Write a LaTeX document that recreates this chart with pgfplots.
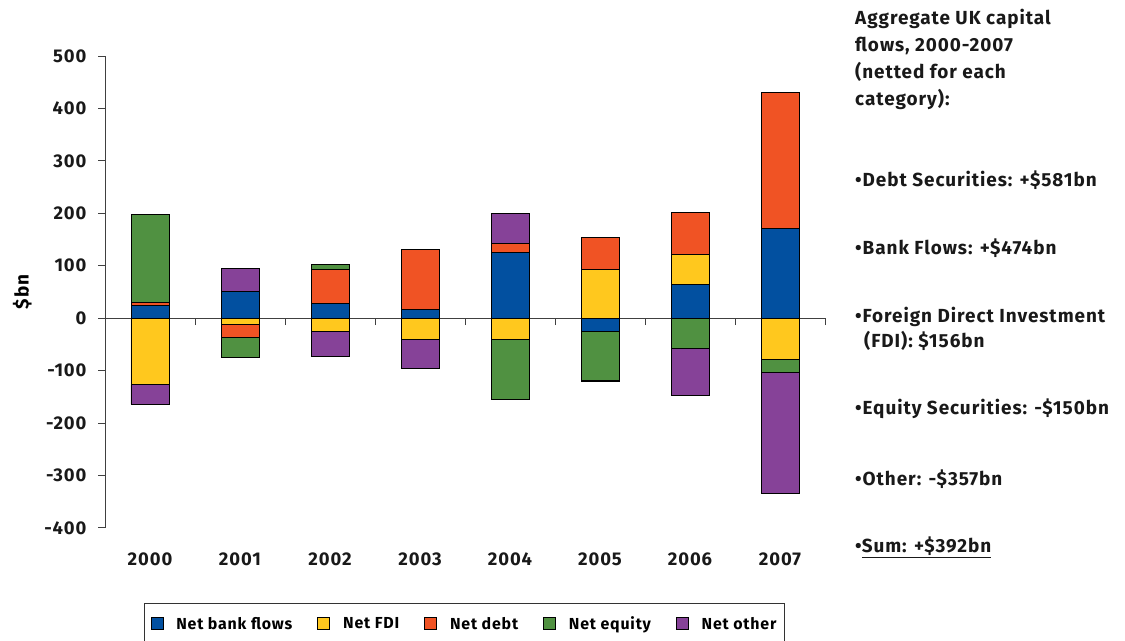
\documentclass[border=0pt]{standalone}
\usepackage{fontspec}
\setmainfont{Fira Sans}[LetterSpace=5]
\usepackage{pgfplots}
\usepackage{pgfplotstable}
\pgfplotsset{compat=1.18}

\definecolor{cblue}{RGB}{2,80,160}
\definecolor{cyellow}{RGB}{255,200,30}
\definecolor{cred}{RGB}{240,83,36}
\definecolor{cgreen}{RGB}{80,145,65}
\definecolor{cpurple}{RGB}{134,66,152}

% positive parts (stacked upward from 0)
\pgfplotstableread{
x blue yellow red green purple
0 25 0 5 168 0
1 51 0 0 0 43
2 28 0 65 10 0
3 16 0 115 0 0
4 125 0 18 0 57
5 0 93 61 0 0
6 65 57 80 0 0
7 171 0 259 0 0
}\postable

% negative parts (stacked downward from 0)
\pgfplotstableread{
x blue yellow red green purple
0 0 -127 0 0 -37
1 0 -11 -26 -37 0
2 0 -26 0 0 -46
3 0 -40 0 0 -55
4 0 -41 0 -114 0
5 -26 0 0 -92 -2
6 0 0 0 -58 -89
7 0 -78 0 -26 -230
}\negtable

\pgfplotsset{
  common/.style={
    scale only axis, width=720bp, height=472bp,
    at={(105bp,113bp)}, anchor=south west,
    xmin=-0.5, xmax=7.5, ymin=-400, ymax=500,
    ybar stacked, bar width=38bp,
  },
  barsty/.style={fill=#1, draw=black, line width=0.9bp,
    legend image code/.code={\draw[fill=#1,draw=black,line width=0.8bp] (0bp,-6bp) rectangle (12bp,6bp);}},
}

\begin{document}
\begin{tikzpicture}
\useasboundingbox (0,0) rectangle (1125bp,641bp);

% axis 1: negative parts, y axis and year labels
\begin{axis}[common,
  axis y line*=left, axis x line*=bottom,
  x axis line style={draw=none},
  y axis line style={line width=1bp, color=black!75},
  xtick={0,...,7},
  xticklabels={2000,2001,2002,2003,2004,2005,2006,2007},
  x tick style={draw=none},
  xticklabel style={yshift=-14bp},
  ytick={-400,-300,...,500},
  y tick style={line width=1bp, color=black!75},
  tick align=outside, major tick length=7bp,
  yticklabel style={xshift=-8bp},
  /pgf/number format/assume math mode=true,
  ticklabel style={font=\bfseries\fontsize{18.5}{20}\selectfont, color=black!90},
  ylabel={\$bn},
  ylabel style={font=\bfseries\fontsize{19}{20}\selectfont, at={(axis description cs:-0.115,0.5)}, anchor=center},
]
\addplot[barsty=cblue]   table[x=x,y=blue]   {\negtable};
\addplot[barsty=cyellow] table[x=x,y=yellow] {\negtable};
\addplot[barsty=cred]    table[x=x,y=red]    {\negtable};
\addplot[barsty=cgreen]  table[x=x,y=green]  {\negtable};
\addplot[barsty=cpurple] table[x=x,y=purple] {\negtable};
\end{axis}

% axis 2: positive parts, zero line, legend
\begin{axis}[common,
  axis y line=none, axis x line*=middle,
  x axis line style={line width=1bp, color=black!75},
  xtick={0.5,1.5,...,7.5}, xticklabels={},
  x tick style={line width=1bp, color=black!75},
  tick align=outside, major tick length=7bp,
  legend columns=5,
  legend style={at={(axis description cs:0.0542,-0.1589)}, anchor=north west,
    draw=black!80, line width=1bp,
    font=\bfseries\fontsize{16}{18}\selectfont,
    inner xsep=6bp, inner ysep=11bp,
    /tikz/every odd column/.append style={column sep=11bp},
    /tikz/every even column/.append style={column sep=23bp}},
]
\addplot[barsty=cblue]   table[x=x,y=blue]   {\postable};
\addplot[barsty=cyellow] table[x=x,y=yellow] {\postable};
\addplot[barsty=cred]    table[x=x,y=red]    {\postable};
\addplot[barsty=cgreen]  table[x=x,y=green]  {\postable};
\addplot[barsty=cpurple] table[x=x,y=purple] {\postable};
\legend{Net bank flows, Net FDI, Net debt, Net equity, Net other}
\end{axis}

% side text
\begin{scope}[every node/.style={anchor=base west, inner sep=0pt,
    font=\bfseries\fontsize{19}{20}\selectfont, color=black!90}]
\node at (855bp,{641bp-25bp}) {Aggregate UK capital};
\node at (855bp,{641bp-52bp}) {flows, 2000-2007};
\node at (855bp,{641bp-79bp}) {(netted for each};
\node at (855bp,{641bp-106bp}) {category):};
\node at (855bp,{641bp-187bp}) {•Debt Securities: +\$581bn};
\node at (855bp,{641bp-255bp}) {•Bank Flows: +\$474bn};
\node at (855bp,{641bp-323bp}) {•Foreign Direct Investment};
\node at (864bp,{641bp-348bp}) {(FDI): \$156bn};
\node at (855bp,{641bp-415bp}) {•Equity Securities: -\$150bn};
\node at (855bp,{641bp-486bp}) {•Other: -\$357bn};
\node at (855bp,{641bp-553bp}) {•\underline{Sum: +\$392bn}};
\end{scope}
\end{tikzpicture}
\end{document}
